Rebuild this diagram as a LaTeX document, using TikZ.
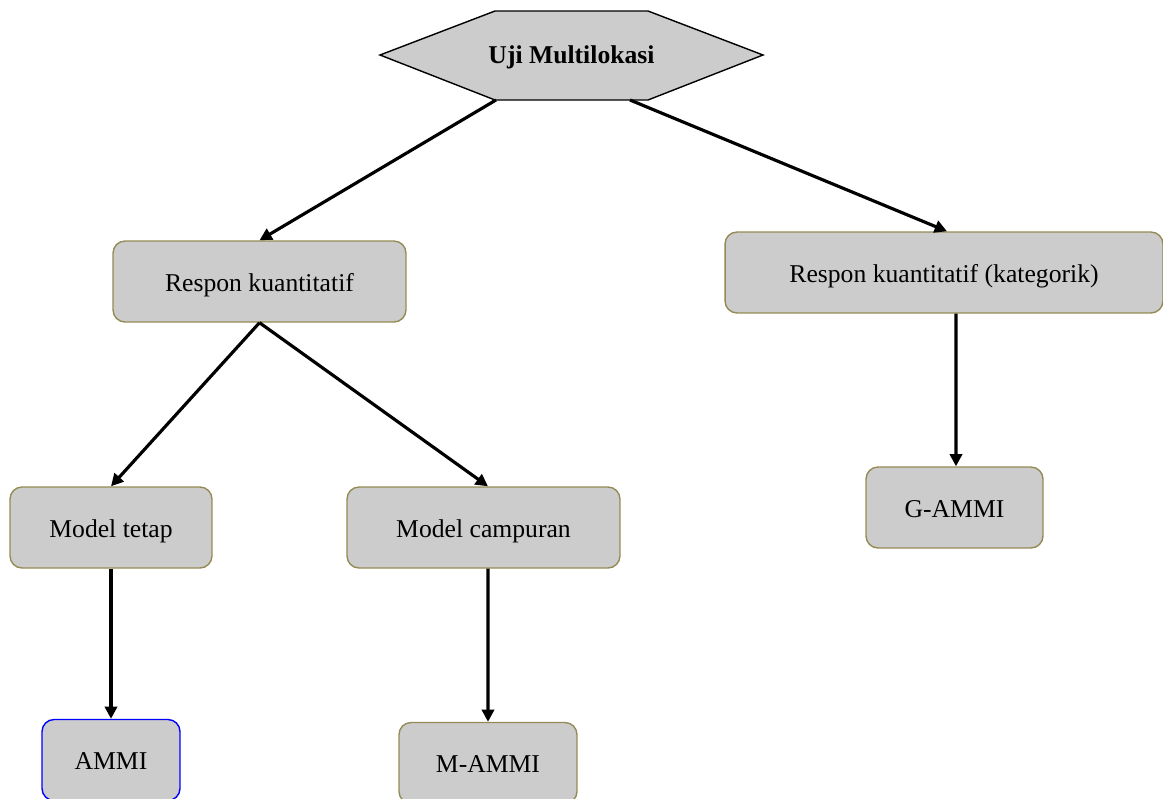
\documentclass[tikz,border=0pt]{standalone}
\usepackage{fontspec}
\setmainfont{Liberation Serif}
\usetikzlibrary{arrows.meta}
\definecolor{boxfill}{HTML}{CCCCCC}
\definecolor{boxline}{HTML}{948A54}
\begin{document}
\begin{tikzpicture}[x=0.02cm,y=-0.02cm,>={Triangle[length=7pt,width=7pt]}]
 \tikzstyle{every node}=[font=\fontsize{14.6}{17}\selectfont,inner sep=0pt,text height=11pt,text depth=0pt];
 \tikzstyle{box}=[draw=boxline,fill=boxfill,line width=0.8pt,rounded corners=0.24cm,minimum height=1.62cm];
 \tikzstyle{arr}=[->,line width=1.8pt];
    \clip (0,0) rectangle (1163,798);
    \draw[draw=black,fill=boxfill,line width=0.8pt] (380,55) -- (495,11) -- (648,11) -- (763,55) -- (648,100) -- (495,100) -- cycle;
    \node at (571.5,54) (uji) {\textbf{Uji Multilokasi}};
    \coordinate (ujil) at (496,100);
    \coordinate (ujir) at (630,100);
    \node at (259.5,281.5) (rk) [box,minimum width=5.86cm] {Respon kuantitatif};
    \node at (944,272.5) (rkk) [box,minimum width=8.76cm] {Respon kuantitatif (kategorik)};
    \node at (111,527.5) (mt) [box,minimum width=4.04cm] {Model tetap};
    \node at (483.5,527.5) (mc) [box,minimum width=5.46cm] {Model campuran};
    \node at (954.5,507.5) (gammi) [box,minimum width=3.54cm] {G-AMMI};
    \node at (111,760) (ammi) [box,draw=blue,minimum width=2.76cm] {AMMI};
    \node at (488,763) (mammi) [box,minimum width=3.56cm] {M-AMMI};
    \draw[arr] (ujil) -- (rk.north);
    \draw[arr] (ujir) -- ([xshift=0.06cm]rkk.north);
    \draw[arr] (rk.south) -- (mt.north);
    \draw[arr] (rk.south) -- ([xshift=0.09cm]mc.north);
    \draw[arr] ([xshift=0.24cm]rkk.south) -- ([xshift=0.03cm]gammi.north);
    \draw[arr] (mt.south) -- (ammi.north);
    \draw[arr] ([xshift=0.09cm]mc.south) -- (mammi.north);
\end{tikzpicture}
\end{document}
